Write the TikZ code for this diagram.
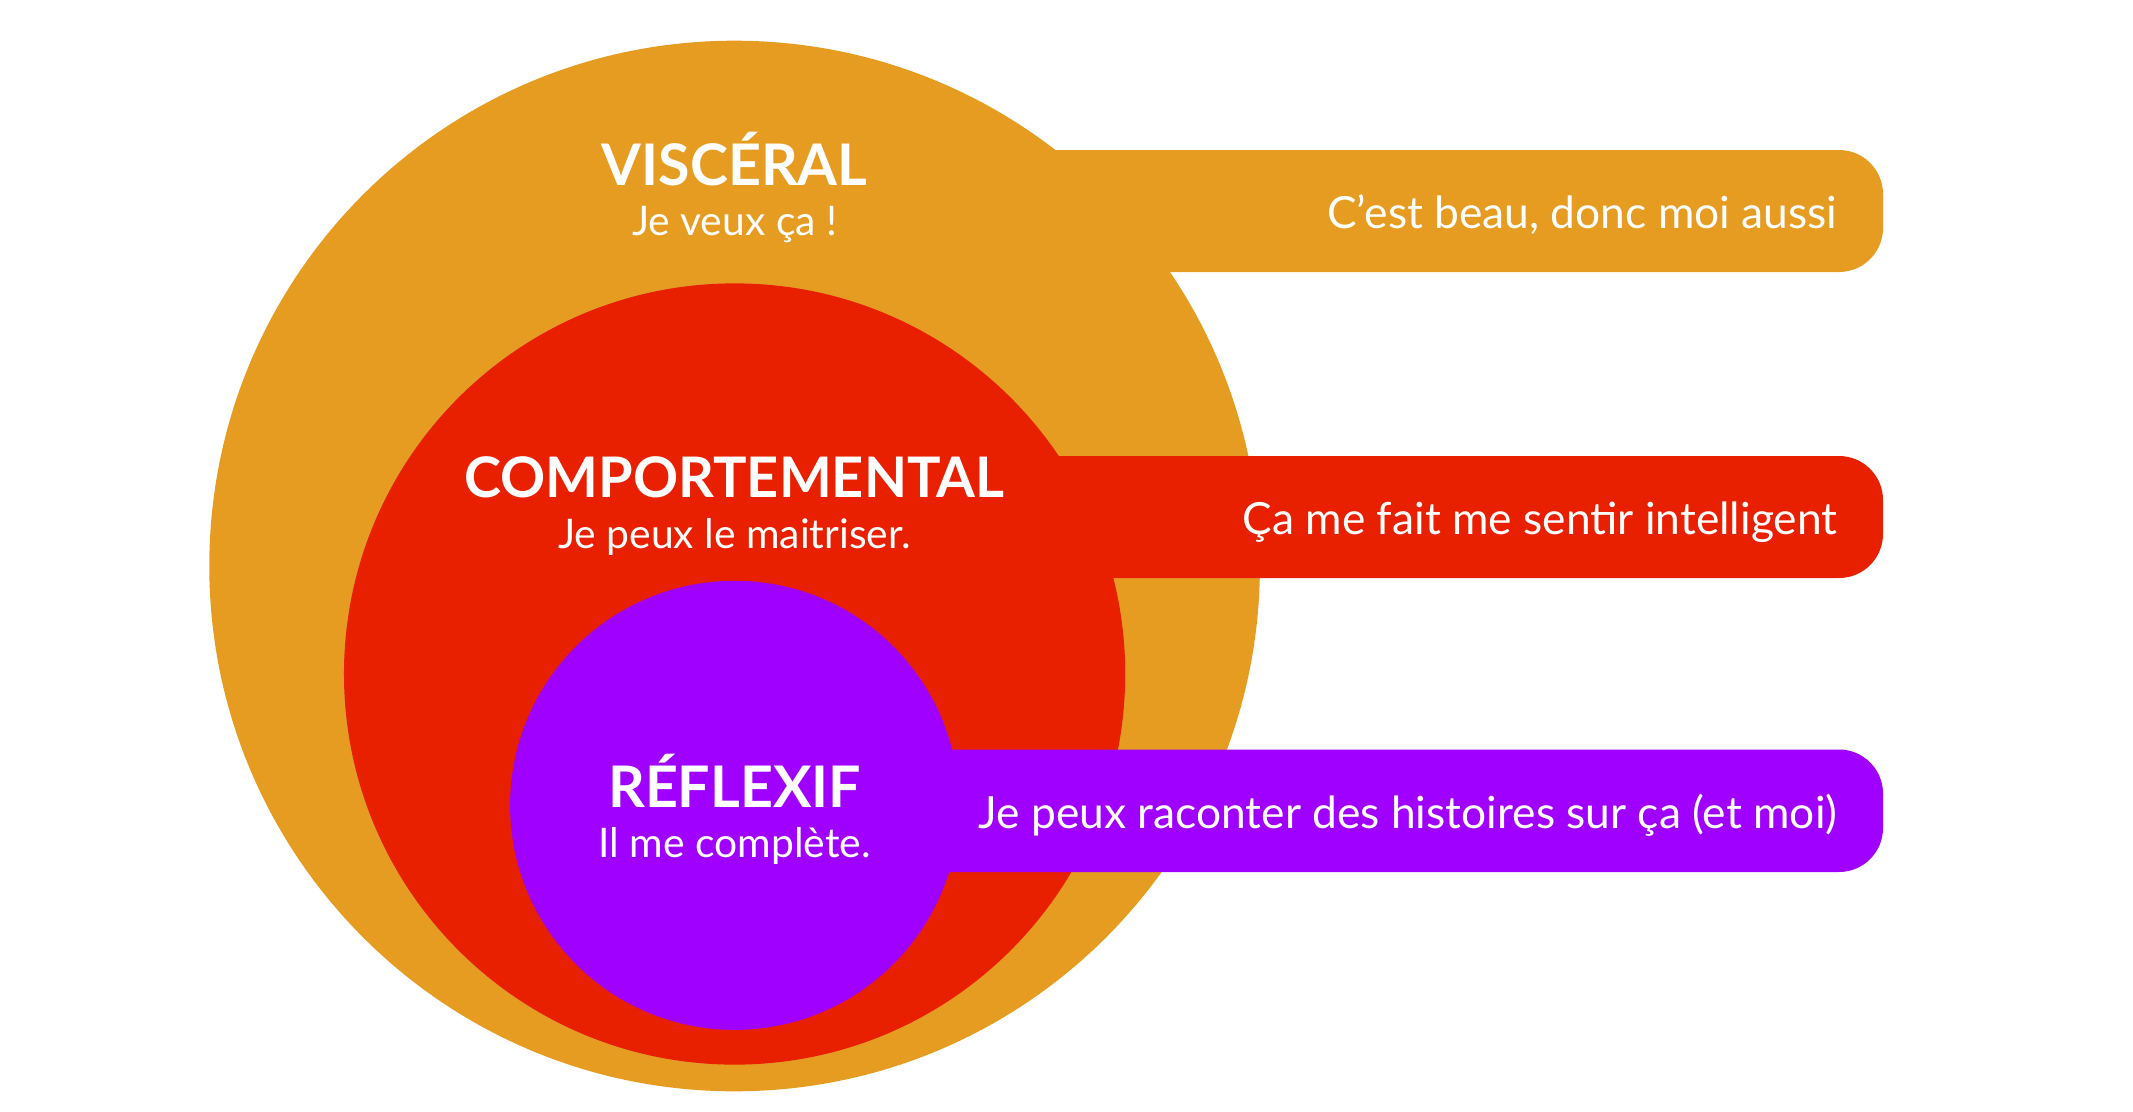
\documentclass[tikz,border=0pt]{standalone}
\usepackage{fontspec}
\setmainfont{Lato}
\usetikzlibrary{positioning}
\definecolor{viscorange}{RGB}{229,156,33}
\definecolor{comporred}{RGB}{232,32,0}
\definecolor{reflexpurple}{RGB}{159,0,255}
\tikzset{
  levelname/.style={text=white, inner sep=0pt, anchor=base,
                    font=\bfseries\fontsize{16.3}{19}\selectfont},
  levelsub/.style={text=white, inner sep=0pt, anchor=base,
                   font=\fontsize{11.6}{14}\selectfont},
  saying/.style={text=white, inner sep=0pt, anchor=base east,
                 font=\fontsize{12.6}{15}\selectfont},
  band/.style={rounded corners=0.44cm},
}

\begin{document}
\begin{tikzpicture}[x=0.01cm, y=-0.01cm]
  \useasboundingbox (0,0) rectangle (2133,1112);

  % Visceral level
  \fill[viscorange] (734.6,566) circle[radius=5.25cm];
  \fill[viscorange, band] (734.6,150) rectangle (1883,272);
  % Comportemental level
  \fill[comporred] (734.6,674) circle[radius=3.904cm];
  \fill[comporred, band] (734.6,456) rectangle (1883,578);
  % Reflexif level
  \fill[reflexpurple] (734.6,805.3) circle[radius=2.244cm];
  \fill[reflexpurple, band] (734.6,749.5) rectangle (1883,872);

  % level names
  \node[levelname] (visc) at (734.6,185) {VISCÉRAL};
  \node[levelsub] (viscsub) at (734.6,235) {Je veux ça !};
  \node[levelname, font=\bfseries\fontsize{15.9}{19}\selectfont] (comp) at (734.6,497) {COMPORTEMENTAL};
  \node[levelsub] (compsub) at (734.6,548) {Je peux le maitriser.};
  \node[levelname] (refl) at (734.6,807) {RÉFLEXIF};
  \node[levelsub] (reflsub) at (734.6,857) {Il me complète.};

  % sayings
  \node[saying] (viscsay) at (1838,228) {C’est beau, donc moi aussi};
  \node[saying] (compsay) at (1838,534) {Ça me fait me sentir intelligent};
  \node[saying] (reflsay) at (1838,828) {Je peux raconter des histoires sur ça (et moi)};
\end{tikzpicture}
\end{document}
